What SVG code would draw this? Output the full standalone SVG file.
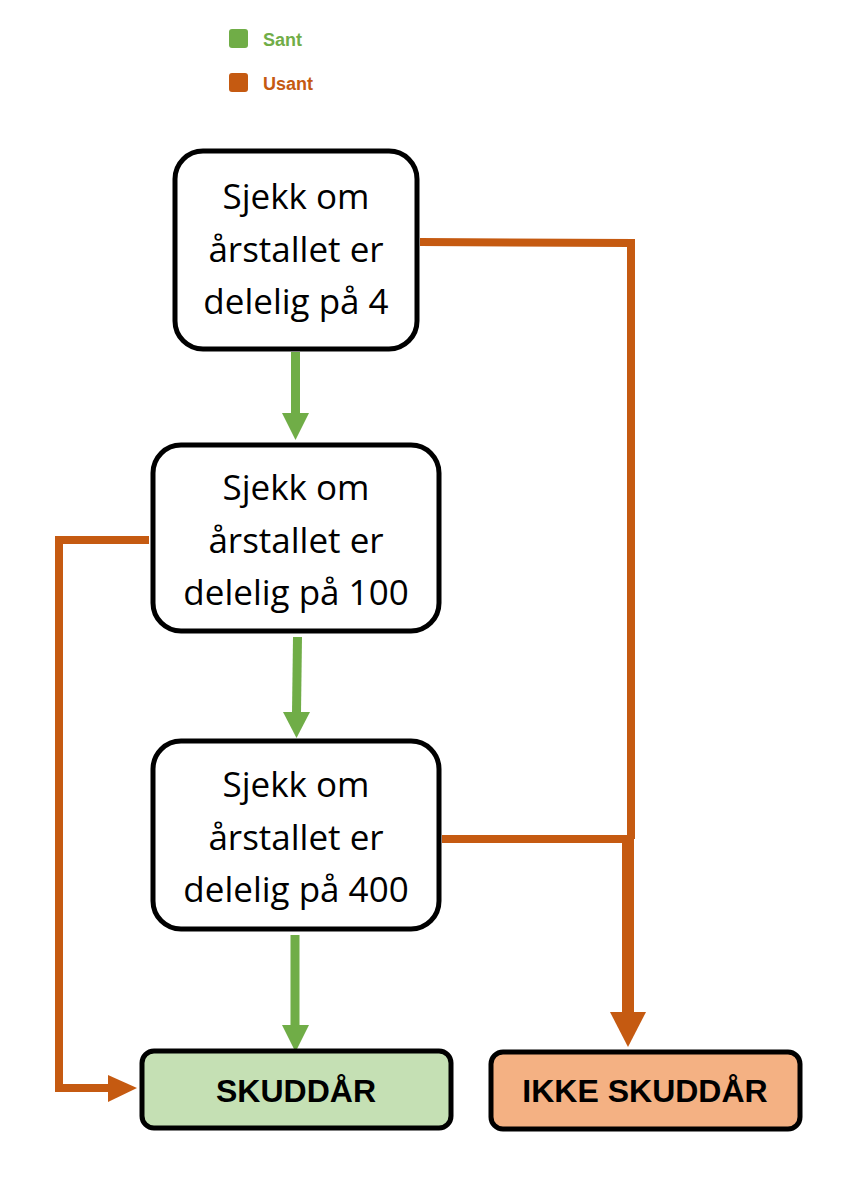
<svg xmlns="http://www.w3.org/2000/svg" width="856" height="1180" viewBox="0 0 856 1180">
<style>
.box{fill:#fff;stroke:#000;stroke-width:5}
.t{font-family:"Open Sans","Liberation Sans",sans-serif;font-size:35px;fill:#000;text-anchor:middle}
.b{font-family:"Liberation Sans",Arial,sans-serif;font-size:32px;font-weight:bold;fill:#000;text-anchor:middle}
.leg{font-family:"Liberation Sans",Arial,sans-serif;font-size:18px;font-weight:bold}
.g{stroke:#70AD47;stroke-width:9;fill:none}
.o{stroke:#C55A11;stroke-width:8;fill:none}
.gh{fill:#70AD47}
.oh{fill:#C55A11}
</style>
<rect width="856" height="1180" fill="#fff"/>
<g id="legend">
<rect x="229" y="29" width="19" height="19" rx="3" fill="#70AD47"/>
<text x="263" y="46" class="leg" fill="#70AD47">Sant</text>
<rect x="229" y="73" width="19" height="19" rx="3" fill="#C55A11"/>
<text x="263" y="90" class="leg" fill="#C55A11">Usant</text>
</g>
<g id="connectors">
<line class="g" x1="295.5" y1="352" x2="295.5" y2="414"/>
<polygon class="gh" points="282,413 309,413 295.5,440"/>
<line class="g" x1="297.5" y1="637" x2="296.5" y2="713"/>
<polygon class="gh" points="283,712 310,712 296.5,738"/>
<line class="g" x1="295" y1="935" x2="295" y2="1026"/>
<polygon class="gh" points="282,1025 309,1025 295.5,1052"/>
<polyline class="o" points="420,242 631,243 631,839"/>
<line class="o" x1="442" y1="839" x2="634" y2="839"/>
<line stroke="#C55A11" stroke-width="12" x1="628" y1="835" x2="628" y2="1014"/>
<polygon class="oh" points="610,1012 646,1012 628,1047"/>
<polyline class="o" points="149,540 59,540 59,1088 110,1088"/>
<polygon class="oh" points="108,1075 108,1102 137,1088"/>
</g>
<g id="node1">
<rect class="box" x="175" y="151" width="242" height="198" rx="28"/>
<text class="t" x="296" y="209">Sjekk om</text>
<text class="t" x="296" y="262">årstallet er</text>
<text class="t" x="296" y="314">delelig på 4</text>
</g>
<g id="node2">
<rect class="box" x="153" y="445" width="286" height="186" rx="28"/>
<text class="t" x="296" y="500">Sjekk om</text>
<text class="t" x="296" y="553">årstallet er</text>
<text class="t" x="296" y="605">delelig på 100</text>
</g>
<g id="node3">
<rect class="box" x="153" y="741" width="286" height="188" rx="28"/>
<text class="t" x="296" y="797">Sjekk om</text>
<text class="t" x="296" y="850">årstallet er</text>
<text class="t" x="296" y="902">delelig på 400</text>
</g>
<g id="skuddar">
<rect x="142" y="1051" width="309" height="77" rx="12" fill="#C5E0B4" stroke="#000" stroke-width="5"/>
<text class="b" x="296" y="1102">SKUDDÅR</text>
</g>
<g id="ikke-skuddar">
<rect x="491" y="1052" width="309" height="77" rx="12" fill="#F4B183" stroke="#000" stroke-width="5"/>
<text class="b" x="645" y="1102">IKKE SKUDDÅR</text>
</g>
</svg>
